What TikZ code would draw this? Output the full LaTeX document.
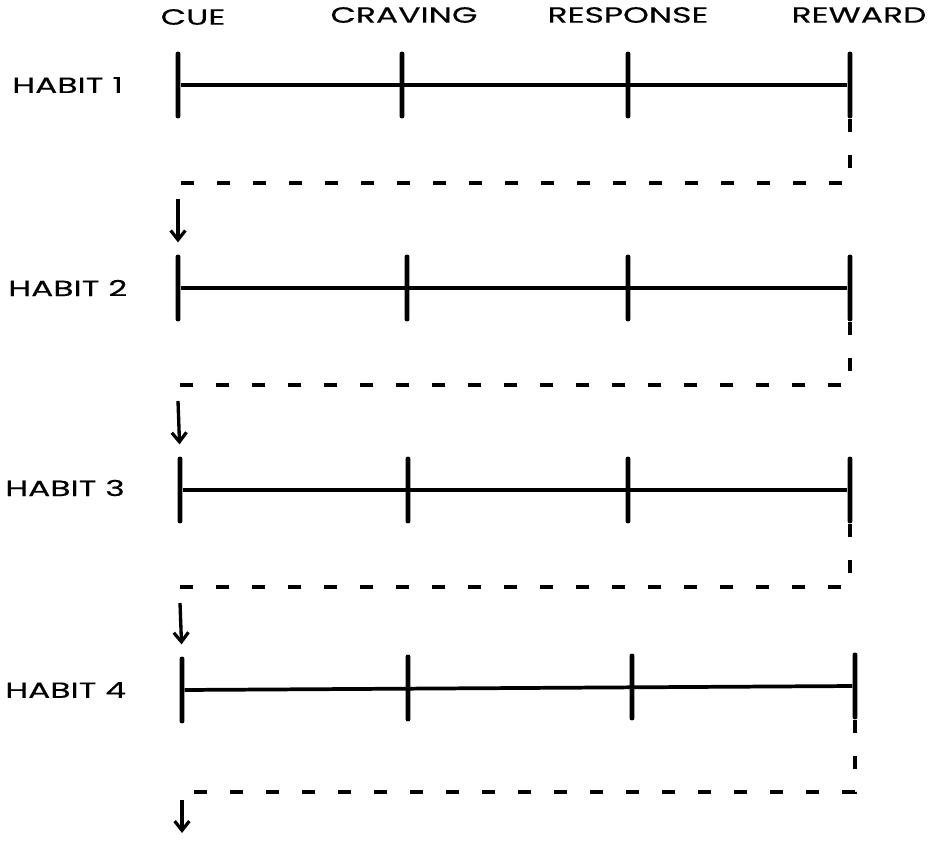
\documentclass[tikz,border=0pt]{standalone}
\usepackage{fontspec}
\newfontfamily\capfont{Poppins}[FakeStretch=1.5, FakeBold=0.3]
\usetikzlibrary{arrows.meta}
\tikzset{
  lbl/.style={font=\capfont\fontsize{16.5}{19}\selectfont, inner sep=0pt},
  tick/.style={rectangle, fill, inner sep=0pt, minimum width=3.6pt, minimum height=50pt, rounded corners=1.5pt},
  track/.style={line width=2.8pt},
  loop/.style={line width=2.6pt, dash pattern=on 10pt off 17pt},
  drop/.style={line width=2.5pt, -{Straight Barb[length=7pt,width=11pt,line width=2.4pt]}, shorten >=9pt}
}
\begin{document}
\begin{tikzpicture}[x=0.75pt,y=-0.75pt]
\useasboundingbox (0,0) rectangle (936,847);
% column heads
\node[lbl] (cue) at (193,17){CUE};
\node[lbl] (crav) at (404,15){CRAVING};
\node[lbl] (resp) at (628,15){RESPONSE};
\node[lbl] (rew) at (859,15){REWARD};
% habit 1
\node[lbl, anchor=west] (hab1) at (12,85){HABIT 1};
\node[tick] (h1a) at (178,85){};
\node[tick] (h1b) at (402,85){};
\node[tick] (h1c) at (628,85){};
\node[tick] (h1d) at (850,85){};
\draw[track] (h1a) -- (h1d);
% habit 2
\node[lbl, anchor=west] (hab2) at (8,288){HABIT 2};
\node[tick] (h2a) at (178,288){};
\node[tick] (h2b) at (407,288){};
\node[tick] (h2c) at (628,288){};
\node[tick] (h2d) at (850,288){};
\draw[track] (h2a) -- (h2d);
% habit 3
\node[lbl, anchor=west] (hab3) at (5,488){HABIT 3};
\node[tick] (h3a) at (180,490){};
\node[tick] (h3b) at (408,490){};
\node[tick] (h3c) at (628,490){};
\node[tick] (h3d) at (850,490){};
\draw[track] (h3a) -- (h3d);
% habit 4
\node[lbl, anchor=west] (hab4) at (5,690){HABIT 4};
\node[tick] (h4a) at (182,690){};
\node[tick] (h4b) at (408,688){};
\node[tick] (h4c) at (632,687){};
\node[tick] (h4d) at (855,686){};
\draw[track] (h4a) -- (h4d);
% loops back to the cue
\coordinate (k1) at (178,183);
\coordinate (k2) at (178,385);
\coordinate (k3) at (180,587);
\coordinate (k4) at (182,792);
\coordinate (end) at (182,845);
\draw[loop] (h1d.south) |- (k1);
\draw[drop] ([yshift=-12pt]k1) -- (h2a.north);
\draw[loop] (h2d.south) |- (k2);
\draw[drop] ([yshift=-12pt]k2) -- (h3a.north);
\draw[loop] (h3d.south) |- (k3);
\draw[drop] ([yshift=-12pt]k3) -- (h4a.north);
\draw[loop] (h4d.south) |- (k4);
\draw[drop] ([yshift=-6pt]k4) -- (end);
\end{tikzpicture}
\end{document}
